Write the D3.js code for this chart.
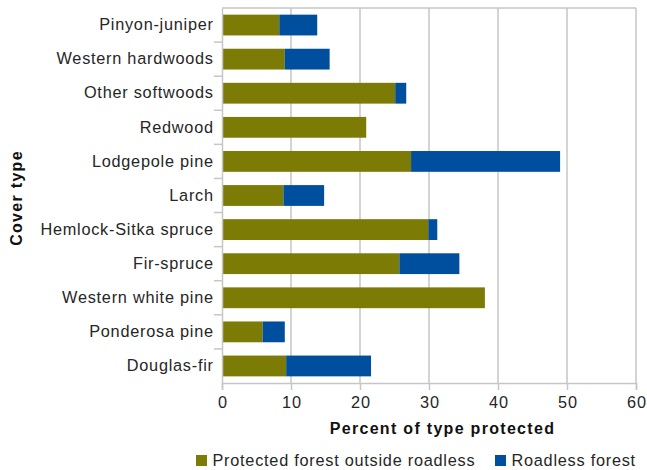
<!DOCTYPE html>
<html><head><meta charset="utf-8">
<script src="https://cdn.jsdelivr.net/npm/d3@7"></script>
<style>body{margin:0;background:#fff}svg{display:block}text{font-family:"Liberation Sans",Arial,Helvetica,sans-serif}</style>
</head><body><svg id="c" width="647" height="470"></svg>
<script>
const categories = ["Pinyon-juniper","Western hardwoods","Other softwoods","Redwood","Lodgepole pine","Larch","Hemlock-Sitka spruce","Fir-spruce","Western white pine","Ponderosa pine","Douglas-fir"];
const protectedOutside = [8.3, 9.1, 25.1, 20.9, 27.4, 8.9, 29.9, 25.7, 38.1, 5.9, 9.3];
const roadless = [5.5, 6.5, 1.6, 0, 21.6, 5.9, 1.3, 8.7, 0, 3.2, 12.3];
const xTicks = [0,10,20,30,40,50,60];
const seriesNames = ["Protected forest outside roadless","Roadless forest"];
const colors = ["#7b7b06","#004f9f"];

const svg = d3.select("#c");
const m = {l:222, r:636, t:8, b:383};
const x = d3.scaleLinear().domain([0,60]).range([m.l, m.r]);
const y = d3.scaleBand().domain(categories).range([m.t, m.b]).paddingInner(0.39).paddingOuter(0.195);
const grid = "#c6c6c6";
const FS = 16.3, LS = "0.75px", TXT = "#262626";

svg.append("g").selectAll("line").data(xTicks.slice(1)).join("line")
  .attr("x1", d=>x(d)).attr("x2", d=>x(d)).attr("y1", m.t).attr("y2", m.b)
  .attr("stroke", grid).attr("stroke-width", 1.5);
svg.append("line").attr("x1", m.l).attr("x2", m.r).attr("y1", m.t).attr("y2", m.t).attr("stroke", grid).attr("stroke-width", 1.5);

const stack = categories.map((c,i)=>({c, a:protectedOutside[i], b:roadless[i]}));
const g = svg.append("g");
g.selectAll("rect.a").data(stack).join("rect").attr("class","a")
  .attr("x", x(0)).attr("y", d=>y(d.c)).attr("height", y.bandwidth())
  .attr("width", d=>x(d.a)-x(0)).attr("fill", colors[0]);
g.selectAll("rect.b").data(stack.filter(d=>d.b>0)).join("rect").attr("class","b")
  .attr("x", d=>x(d.a)).attr("y", d=>y(d.c)).attr("height", y.bandwidth())
  .attr("width", d=>x(d.a+d.b)-x(d.a)).attr("fill", colors[1]);

const xa = svg.append("g").attr("transform", `translate(0,${m.b})`)
  .call(d3.axisBottom(x).tickValues(xTicks).tickSize(7).tickPadding(6));
xa.select(".domain").attr("stroke", grid).attr("stroke-width", 1.5);
xa.selectAll(".tick line").attr("stroke", grid).attr("stroke-width", 1.5);
xa.selectAll("text").attr("font-size", FS).attr("fill", TXT).style("letter-spacing", LS).attr("dx", "0.4px");

const ya = svg.append("g").attr("transform", `translate(${m.l},0)`)
  .call(d3.axisLeft(y).tickSize(0).tickPadding(9));
ya.select(".domain").attr("stroke", grid).attr("stroke-width", 1.5);
ya.selectAll("text").attr("font-size", FS).attr("fill", TXT).style("letter-spacing", LS).attr("dx", "0.75px");
const step = y.step();
ya.append("g").selectAll("line").data(d3.range(1, categories.length)).join("line")
  .attr("x1", -8).attr("x2", 0)
  .attr("y1", i=> y(categories[i]) - y.paddingInner()*step/2)
  .attr("y2", i=> y(categories[i]) - y.paddingInner()*step/2)
  .attr("stroke", grid).attr("stroke-width", 1.5);

svg.append("text").attr("x", 442.5).attr("y", 433.5).attr("text-anchor","middle")
  .attr("font-size", 16).attr("font-weight","bold").attr("fill","#111").style("letter-spacing","1.3px").text("Percent of type protected");
svg.append("text").attr("transform", `translate(22,198) rotate(-90)`).attr("text-anchor","middle")
  .attr("font-size", 16).attr("font-weight","bold").attr("fill","#111").style("letter-spacing","1.3px").text("Cover type");

const leg = svg.append("g");
const lx = [196, 495];
seriesNames.forEach((n,i)=>{
  leg.append("rect").attr("x", lx[i]).attr("y", 455).attr("width", 11).attr("height", 11).attr("fill", colors[i]);
  leg.append("text").attr("x", lx[i]+16.5).attr("y", 466).attr("font-size", FS).attr("fill",TXT).style("letter-spacing", LS).text(n);
});
</script></body></html>
